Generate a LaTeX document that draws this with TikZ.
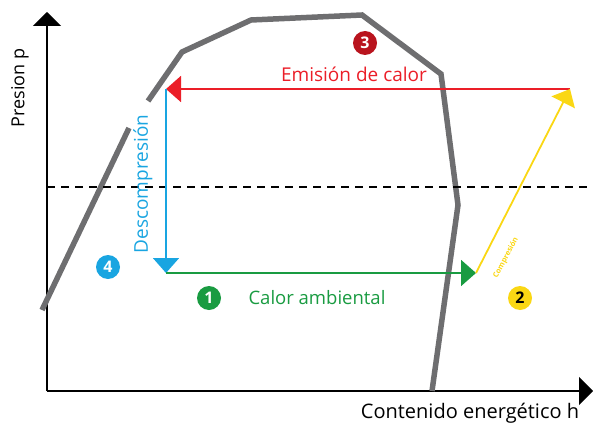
\documentclass[tikz,border=0pt]{standalone}
\usepackage{fontspec}
\setmainfont{Open Sans}
\usetikzlibrary{arrows.meta, positioning, calc}
\definecolor{curvegray}{RGB}{110,110,112}
\definecolor{emired}{RGB}{235,30,40}
\definecolor{numred}{RGB}{185,20,30}
\definecolor{desblue}{RGB}{25,165,225}
\definecolor{ambgreen}{RGB}{25,155,65}
\definecolor{comyellow}{RGB}{250,215,20}

\begin{document}
\begin{tikzpicture}[
  x=1pt, y=-1pt,
  axis/.style={line width=1.6pt, -{Triangle[length=14pt, width=28pt]}},
  curve/.style={line width=5.5pt, color=curvegray, line join=miter},
  proc/.style={line width=1.8pt, -{Triangle[length=15pt, width=26pt]}},
  num/.style={circle, inner sep=0pt, minimum size=24pt, font=\fontsize{16}{16}\selectfont\bfseries, text=white},
  lbl/.style={inner sep=0pt, font=\fontsize{18.5}{20}\selectfont}
]
  \useasboundingbox (0,0) rectangle (593,425);

  % axes
  \coordinate (origin) at (47,391);
  \coordinate (ytop) at (47,12);
  \coordinate (xend) at (593,391);
  \draw[axis] (origin) -- (ytop);
  \draw[axis] (origin) -- (xend);
  \node[lbl, rotate=90, font=\fontsize{18}{20}\selectfont] (ylabel) at (20,88) {Presion p};
  \node[lbl, font=\fontsize{20}{22}\selectfont] (xlabel) at (470,413) {Contenido energético h};

  % saturation curve
  \draw[curve] (42,310) -- (129,128);
  \draw[curve] (148,101) -- (182,52) -- (251,20) -- (362,15) -- (441,74) -- (458,205) -- (432,391);

  % reference pressure
  \draw[line width=1.4pt, dash pattern=on 8pt off 6pt] (47,187) -- (593,187);

  % cycle corners
  \coordinate (ca) at (570,89);
  \coordinate (cb) at (166,89);
  \coordinate (cc) at (166,273);
  \coordinate (cd) at (476,273);

  \draw[proc, color=emired] (ca) -- (cb);
  \draw[proc, color=desblue] (cb) -- (cc);
  \draw[proc, color=ambgreen] (cc) -- (cd);
  \draw[proc, color=comyellow] (cd) -- (ca);

  \node[lbl, text=emired, font=\fontsize{19}{20}\selectfont] (emision) at (354,74) {Emisión de calor};
  \node[lbl, text=desblue, rotate=90, font=\fontsize{19}{20}\selectfont] (descomp) at (143,184) {Descompresión};
  \node[lbl, text=ambgreen] (ambient) at (317,298) {Calor ambiental};
  \node[inner sep=0pt, text=comyellow, rotate=62, font=\fontsize{7.5}{8}\selectfont\bfseries] (compres) at (506,258) {Compresión};

  \node[num, fill=numred] (n3) at (365,43) {3};
  \node[num, fill=desblue] (n4) at (108,267) {4};
  \node[num, fill=ambgreen] (n1) at (209,298) {1};
  \node[num, fill=comyellow, text=black] (n2) at (520,298) {2};
\end{tikzpicture}
\end{document}
